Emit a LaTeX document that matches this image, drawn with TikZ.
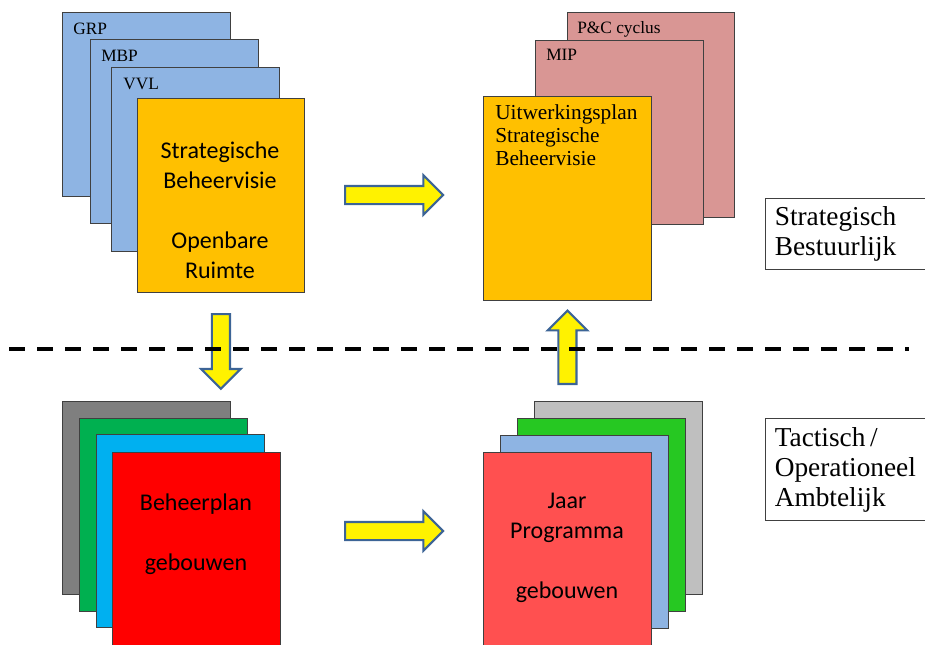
\documentclass[tikz,border=0pt]{standalone}
\usepackage{fontspec}
\setmainfont{Liberation Serif}
\newfontfamily\calibri{Carlito}
\definecolor{sheetblue}{HTML}{8EB4E3}
\definecolor{gold}{HTML}{FFC000}
\definecolor{rosy}{HTML}{D99694}
\definecolor{darkgrey}{HTML}{7F7F7F}
\definecolor{lightgrey}{HTML}{BFBFBF}
\definecolor{officegreen}{HTML}{00B050}
\definecolor{brightgreen}{RGB}{38,200,34}
\definecolor{cyanblue}{HTML}{00B0F0}
\definecolor{lightred}{HTML}{FF5050}
\definecolor{arrowblue}{RGB}{60,100,150}
\usetikzlibrary{shapes, arrows, positioning, calc}

\begin{document}
\begin{tikzpicture}[x=0.75pt, y=-0.75pt,
        sheet/.style={draw=black!75, line width=0.7pt, anchor=north west, inner sep=0pt, minimum width=126pt, minimum height=138pt},
        card/.style={sheet, minimum height=144.75pt},
        tag/.style={anchor=north west, inner sep=0pt, font=\fontsize{13}{15}\selectfont},
        main/.style={font=\calibri\fontsize{18}{22.5}\selectfont, align=center},
        level/.style={draw=black!75, line width=0.7pt, anchor=north west, align=left, text width=150pt, inner xsep=7pt, font=\fontsize{20.5}{22.5}\selectfont},
        blockarrow/.style={single arrow, draw=arrowblue, line width=1.6pt, fill=yellow, inner xsep=0pt, inner ysep=6pt, minimum height=73.5pt, minimum width=28.5pt, single arrow head extend=8pt, anchor=tail},
        divider/.style={line width=3pt, dash pattern=on 12pt off 9pt}
    ]
    \clip (0,0) rectangle (925,644);

    % Strategisch - links
    \node[sheet, fill=sheetblue] (grp) at (62,12) {};
    \node[sheet, fill=sheetblue] (mbp) at (90,39) {};
    \node[sheet, fill=sheetblue] (vvl) at (111,67) {};
    \node[sheet, fill=gold, minimum height=145.5pt, minimum width=125.25pt] (sbv) at (137,98) {};
    \node[tag] (grpt) at ([shift={(11,11)}]grp.north west) {GRP};
    \node[tag] (mbpt) at ([shift={(11,11)}]mbp.north west) {MBP};
    \node[tag] (vvlt) at ([shift={(12,11)}]vvl.north west) {VVL};
    \node[main] (sbvt) at (220,210) {Strategische\\Beheervisie\\[22.5pt]Openbare\\Ruimte};

    % Strategisch - rechts
    \node[sheet, fill=rosy, minimum height=153.75pt, minimum width=125.25pt] (pc) at (567,12) {};
    \node[sheet, fill=rosy] (mip) at (535,40) {};
    \node[sheet, fill=gold, minimum height=153pt] (uwp) at (483,96) {};
    \node[tag] (pct) at ([shift={(10,9)}]pc.north west) {P\&C cyclus};
    \node[tag] (mipt) at ([shift={(11,9)}]mip.north west) {MIP};
    \node[tag, align=left, font=\fontsize{16}{17.25}\selectfont] (uwpt) at ([shift={(12,8)}]uwp.north west) {Uitwerkingsplan\\Strategische\\Beheervisie};

    % Tactisch - links
    \node[card, fill=darkgrey] (bp1) at (62,401) {};
    \node[card, fill=officegreen] (bp2) at (79,418) {};
    \node[card, fill=cyanblue] (bp3) at (96,434) {};
    \node[card, fill=red] (bp) at (112,452) {};
    \node[main] (bpt) at (196,534) {Beheerplan\\[22.5pt]gebouwen};

    % Tactisch - rechts
    \node[card, fill=lightgrey] (jp1) at (534,401) {};
    \node[card, fill=brightgreen] (jp2) at (517,418) {};
    \node[card, fill=sheetblue] (jp3) at (500,435) {};
    \node[card, fill=lightred] (jp) at (483,452) {};
    \node[main] (jpt) at (567,548) {Jaar\\Programma\\[22.5pt]gebouwen};

    % Niveaus
    \node[level, minimum height=53.25pt] (strat) at (765,198) {Strategisch\\Bestuurlijk};
    \node[level, minimum height=76.5pt] (tact) at (765,418) {Tactisch\,/\\Operationeel\\Ambtelijk};

    % Pijlen
    \coordinate (divl) at (9,349);
    \coordinate (divr) at (909,349);
    \node[blockarrow] (a1) at (344,195) {};
    \node[blockarrow, minimum height=56pt, rotate=-90] (a2) at (sbv.south |- 0,313) {};
    \node[blockarrow, minimum height=55pt, rotate=90] (a3) at (uwp.south |- 0,385) {};
    \node[blockarrow] (a4) at (a1.tail |- 0,531) {};

    \draw[divider] (divl) -- (divr);
\end{tikzpicture}
\end{document}
